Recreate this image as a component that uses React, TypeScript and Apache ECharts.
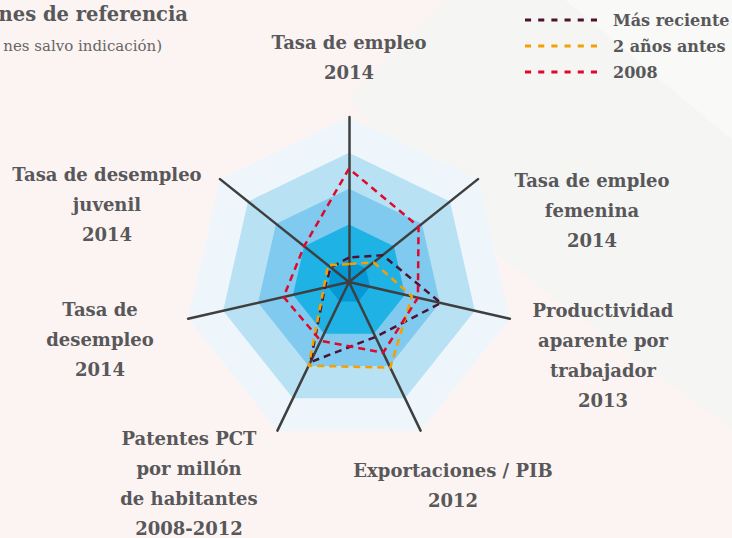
import React, { useEffect, useRef } from "react";
import * as echarts from "echarts";

// Indicators, listed counter-clockwise starting at the top (ECharts radar order)
const indicatorNames = [
  "Tasa de empleo\n2014",
  "Tasa de desempleo\njuvenil\n2014",
  "Tasa de\ndesempleo\n2014",
  "Patentes PCT\npor millón\nde habitantes\n2008-2012",
  "Exportaciones / PIB\n2012",
  "Productividad\naparente por\ntrabajador\n2013",
  "Tasa de empleo\nfemenina\n2014",
];

const seriesNames = ["Más reciente", "2 años antes", "2008"];
const masReciente = [0.08, 0.05, 0.09, 1.88, 1.1, 2.03, 0.6];
const dosAnosAntes = [-0.1, 0.15, 0.12, 1.99, 2.05, 1.2, 0.28];
const anio2008 = [2.56, 1.0, 1.27, 1.22, 1.59, 1.37, 1.88];

const axisMin = -0.6;
const axisMax = 4;
const ringLevels = [4, 3, 2, 1, 0.001];

const ringColors = ["#eef6fc", "#b9e1f4", "#7fcaee", "#1fb2e5", "#0498d5"];
const seriesColors = ["#4e1230", "#f5a000", "#e2062c"];
const labelLayout = [
  [349, 27],
  [107, 159],
  [100, 294],
  [189, 423],
  [453, 455],
  [603, 295],
  [592, 165],
];

const FONT = '"DejaVu Serif", serif';
const TEXT = "#58585a";

const dashIcon =
  "path://M0,0h6v3h-6z M13,0h6v3h-6z M26,0h6v3h-6z M39,0h6v3h-6z M52,0h6v3h-6z M65,0h6v3h-6z";

export default function App() {
  const ref = useRef<HTMLDivElement>(null);
  useEffect(() => {
    if (!ref.current) return;
    const chart = echarts.init(ref.current, undefined, { renderer: "svg" });
    const values = [masReciente, dosAnosAntes, anio2008];
    chart.setOption({
      animation: false,
      backgroundColor: "#fcf4f2",
      legend: {
        data: seriesNames,
        orient: "vertical",
        left: 525,
        top: 11,
        padding: 0,
        itemGap: 8,
        itemWidth: 72,
        itemHeight: 3,
        icon: dashIcon,
        symbolKeepAspect: false,
        selectedMode: false,
        textStyle: {
          fontFamily: FONT,
          fontWeight: "bold",
          fontSize: 16,
          color: TEXT,
          lineHeight: 18,
          padding: [0, 0, 0, 11],
        },
      },
      radar: {
        center: [349, 282],
        radius: 165,
        startAngle: 90,
        z: 3,
        indicator: indicatorNames.map((n) => ({ name: n, min: axisMin, max: axisMax })),
        axisName: { show: false },
        splitNumber: 5,
        splitArea: { show: false },
        splitLine: { show: false },
        axisTick: { show: false },
        axisLabel: { show: false },
        axisLine: { lineStyle: { color: "#3f3f3f", width: 2.5 } },
      },
      graphic: [
        {
          type: "polygon",
          z: -10,
          silent: true,
          shape: { points: [[445, 0], [732, 0], [732, 430], [500, 257], [349, 100]] },
          style: { fill: "#f5f5f4" },
        },
        {
          type: "polygon",
          z: -9,
          silent: true,
          shape: { points: [[565, 0], [732, 0], [732, 140]] },
          style: { fill: "#f9f9f8" },
        },
        {
          type: "text",
          z: 10,
          style: {
            text: "nes de referencia",
            x: 188,
            y: 14,
            align: "right",
            verticalAlign: "middle",
            fontFamily: FONT,
            fontWeight: "bold",
            fontSize: 19.5,
            fill: TEXT,
          },
        },
        {
          type: "text",
          z: 10,
          style: {
            text: "nes salvo indicación)",
            x: 162,
            y: 46,
            align: "right",
            verticalAlign: "middle",
            fontFamily: FONT,
            fontSize: 15,
            fill: "#666666",
          },
        },
        ...indicatorNames.map((n, i) => ({
          type: "text",
          z: 10,
          style: {
            text: n,
            x: labelLayout[i][0],
            y: labelLayout[i][1],
            align: "center",
            verticalAlign: "top",
            fontFamily: FONT,
            fontWeight: "bold",
            fontSize: 18,
            lineHeight: 30,
            fill: TEXT,
          },
        })),
      ],
      series: [
        ...ringLevels.map((lv, i) => ({
          type: "radar",
          name: "nivel " + i,
          z: 1,
          silent: true,
          symbol: "none",
          lineStyle: { width: 0, opacity: 0 },
          areaStyle: { color: ringColors[i], opacity: 1 },
          data: [{ value: indicatorNames.map(() => lv), name: "nivel " + i }],
        })),
        ...seriesNames.map((name, i) => ({
          type: "radar",
          name,
          z: 5,
          symbol: "none",
          itemStyle: { color: seriesColors[i] },
          lineStyle: { color: seriesColors[i], width: 2.5, type: [7, 5] },
          data: [{ value: values[i], name }],
        })),
      ],
    });
    return () => chart.dispose();
  }, []);
  return (
    <div
      ref={ref}
      style={{ position: "absolute", left: 0, top: 0, width: 732, height: 538 }}
    />
  );
}
